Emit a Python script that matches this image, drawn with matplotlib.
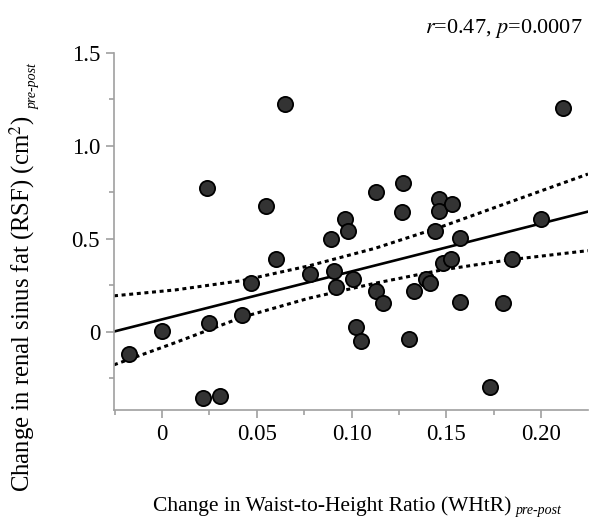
import numpy as np
import matplotlib
matplotlib.use("Agg")
import matplotlib.pyplot as plt
from matplotlib.ticker import MultipleLocator, FixedLocator

plt.rcParams["font.family"] = ["Liberation Serif", "DejaVu Serif"]
plt.rcParams["mathtext.fontset"] = "stix"

# change in WHtR (pre-post) and change in RSF (cm2, pre-post)
whtr = [-0.0174, 0.0, 0.0216, 0.0305, 0.0247, 0.042, 0.047, 0.060, 0.078, 0.089,
        0.0905, 0.092, 0.0237, 0.0647, 0.0547, 0.2116, 0.113, 0.127, 0.1265, 0.146,
        0.1463, 0.153, 0.0963, 0.098, 0.144, 0.157, 0.200, 0.101, 0.113, 0.1168,
        0.1025, 0.105, 0.133, 0.139, 0.1415, 0.148, 0.1525, 0.157, 0.1305, 0.173,
        0.180, 0.1847]
rsf = [-0.12, 0.005, -0.355, -0.344, 0.048, 0.091, 0.262, 0.392, 0.31, 0.50,
       0.33, 0.24, 0.774, 1.226, 0.677, 1.204, 0.753, 0.80, 0.645, 0.715,
       0.65, 0.688, 0.607, 0.543, 0.543, 0.505, 0.607, 0.285, 0.22, 0.156,
       0.028, -0.048, 0.22, 0.285, 0.263, 0.37, 0.392, 0.161, -0.038, -0.296,
       0.156, 0.392]

# fitted line and 95% confidence band
fit_x = [-0.0253, 0.2247]
fit_y = [0.002, 0.647]
band_x = [-0.0253, 0.0072, 0.0423, 0.0774, 0.1125, 0.1475, 0.1826, 0.2247]
band_hi = [0.194, 0.226, 0.276, 0.355, 0.450, 0.566, 0.695, 0.849]
band_lo = [-0.177, -0.057, 0.079, 0.181, 0.262, 0.333, 0.387, 0.437]

stat_text = r"$r$=0.47, $p$=0.0007"
x_ticklabels = ["0", "0.05", "0.10", "0.15", "0.20"]
y_ticklabels = ["0", "0.5", "1.0", "1.5"]

fig = plt.figure(figsize=(5.9, 5.17), dpi=100)
ax = fig.add_axes([114 / 590, 1 - 410 / 517, (588 - 114) / 590, (410 - 53) / 517])

ax.plot(fit_x, fit_y, color="black", lw=1.9, zorder=2)
ax.plot(band_x, band_hi, color="black", lw=2.2, dashes=(1.3, 1.2), zorder=2)
ax.plot(band_x, band_lo, color="black", lw=2.2, dashes=(1.3, 1.2), zorder=2)
ax.scatter(whtr, rsf, s=120, color="#333333", edgecolor="black", linewidth=1.3, zorder=3)

ax.set_xlim(-0.0253, 0.2247)
ax.set_ylim(-0.42, 1.5)
ax.xaxis.set_major_locator(FixedLocator([0, 0.05, 0.10, 0.15, 0.20]))
ax.set_xticklabels(x_ticklabels)
ax.xaxis.set_minor_locator(MultipleLocator(0.025))
ax.yaxis.set_major_locator(FixedLocator([0, 0.5, 1.0, 1.5]))
ax.set_yticklabels(y_ticklabels)
ax.yaxis.set_minor_locator(MultipleLocator(0.25))

for side in ["top", "right"]:
    ax.spines[side].set_visible(False)
for side in ["left", "bottom"]:
    ax.spines[side].set_color("#a0a0a0")
    ax.spines[side].set_linewidth(1.2)
ax.tick_params(which="major", length=6, width=1.2, color="#a0a0a0", labelsize=16.5, pad=4)
ax.tick_params(which="minor", length=3.5, width=1.2, color="#a0a0a0")

# axis labels with italic "pre-post" subscripts
xl = fig.text(153 / 590, 1 - 511 / 517, "Change in Waist-to-Height Ratio (WHtR)",
              fontsize=15.5, ha="left", va="baseline")
yl = fig.text(29 / 590, 1 - 492 / 517, "Change in renal sinus fat (RSF) (cm$^2$)",
              fontsize=17.8, ha="left", va="baseline", rotation=90, rotation_mode="anchor")
fig.canvas.draw()
r = fig.canvas.get_renderer()
bx = xl.get_window_extent(r)
by = yl.get_window_extent(r)
W, H = fig.bbox.width, fig.bbox.height
fig.text((bx.x1 + 4) / W, 1 - 514 / 517, "pre-post", fontsize=10, style="italic",
         ha="left", va="baseline")
fig.text(37 / 590, (by.y1 + 6) / H, "pre-post", fontsize=10, style="italic",
         ha="left", va="baseline", rotation=90, rotation_mode="anchor")

fig.text(583 / 590, 1 - 33 / 517, stat_text, fontsize=16, ha="right", va="baseline")

fig.savefig("out.png", dpi=100)
